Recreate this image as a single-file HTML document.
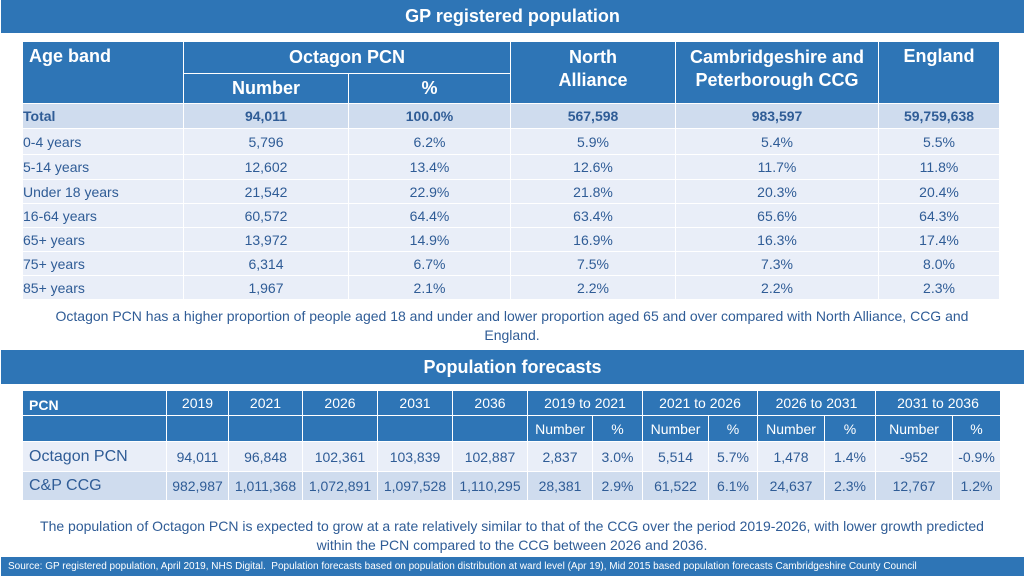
<!DOCTYPE html>
<html><head><meta charset="utf-8"><style>
body{margin:0;width:1024px;height:576px;position:relative;background:#fff;font-family:"Liberation Sans",sans-serif;overflow:hidden}
.banner{position:absolute;left:1px;width:1023px;background:#2e75b6;color:#fff;font-weight:bold;text-align:center}
table{position:absolute;border-collapse:collapse;table-layout:fixed}
td{padding:0;text-align:center;color:#2f5c96;overflow:hidden;white-space:nowrap}
.h td{background:#2e75b6;color:#fff;border:1px solid #fff}
#t1 td{font-size:14px;border-left:1px solid #fff;border-right:1px solid #fff;border-bottom:1px solid #fff}
#t1 .h td{font-size:18px;font-weight:bold}
#t1 .b td{background:#e9eef8}
#t1 .tot td{background:#cfdcee}
#t2 td{font-size:16px;border:1px solid #fff}
#t2 .h td{font-size:14px}
.r1 td{background:#e9eef8}
.r2 td{background:#cfdcee}
.l{text-align:left!important}
.note{position:absolute;left:0;width:1024px;text-align:center;color:#2f5c96;font-size:14px;line-height:19px}
</style></head><body>
<div class="banner" style="top:0;height:33px;line-height:33px;font-size:18px">GP registered population</div>
<table id="t1" style="left:22px;top:41px;width:977px">
<colgroup><col style="width:161px"><col style="width:165px"><col style="width:162px"><col style="width:165px"><col style="width:203px"><col style="width:121px"></colgroup>
<tr class="h" style="height:32px"><td class="l" rowspan="2" style="vertical-align:top;padding:4px 0 0 6px">Age band</td><td colspan="2">Octagon PCN</td><td rowspan="2" style="vertical-align:top;padding-top:4px;line-height:23px;white-space:normal">North<br>Alliance</td><td rowspan="2" style="vertical-align:top;padding-top:4px;line-height:23px">Cambridgeshire and<br>Peterborough CCG</td><td rowspan="2" style="vertical-align:top;padding-top:4px">England</td></tr>
<tr class="h" style="height:30px"><td>Number</td><td>%</td></tr>
<tr class="b tot" style="height:25px;font-weight:bold"><td class="l" style="font-weight:bold">Total</td><td>94,011</td><td>100.0%</td><td style="font-weight:bold">567,598</td><td style="font-weight:bold">983,597</td><td style="font-weight:bold">59,759,638</td></tr>
<tr class="b" style="height:26px"><td class="l">0-4 years</td><td>5,796</td><td>6.2%</td><td>5.9%</td><td>5.4%</td><td>5.5%</td></tr>
<tr class="b" style="height:25px"><td class="l">5-14 years</td><td>12,602</td><td>13.4%</td><td>12.6%</td><td>11.7%</td><td>11.8%</td></tr>
<tr class="b" style="height:24px"><td class="l">Under 18 years</td><td>21,542</td><td>22.9%</td><td>21.8%</td><td>20.3%</td><td>20.4%</td></tr>
<tr class="b" style="height:24px"><td class="l">16-64 years</td><td>60,572</td><td>64.4%</td><td>63.4%</td><td>65.6%</td><td>64.3%</td></tr>
<tr class="b" style="height:24px"><td class="l">65+ years</td><td>13,972</td><td>14.9%</td><td>16.9%</td><td>16.3%</td><td>17.4%</td></tr>
<tr class="b" style="height:24px"><td class="l">75+ years</td><td>6,314</td><td>6.7%</td><td>7.5%</td><td>7.3%</td><td>8.0%</td></tr>
<tr class="b" style="height:24px"><td class="l">85+ years</td><td>1,967</td><td>2.1%</td><td>2.2%</td><td>2.2%</td><td>2.3%</td></tr>
</table>
<div class="note" style="top:307px">Octagon PCN has a higher proportion of people aged 18 and under and lower proportion aged 65 and over compared with North Alliance, CCG and<br>England.</div>
<div class="banner" style="top:350px;height:34px;line-height:34px;font-size:18px">Population forecasts</div>
<table id="t2" style="left:22px;top:390px;width:978px">
<colgroup><col style="width:144px"><col style="width:62px"><col style="width:74px"><col style="width:75px"><col style="width:75px"><col style="width:75px"><col style="width:65px"><col style="width:50px"><col style="width:66px"><col style="width:49px"><col style="width:67px"><col style="width:51px"><col style="width:77px"><col style="width:48px"></colgroup>
<tr class="h" style="height:25px"><td class="l" style="font-weight:bold;padding-left:6px;padding-top:4px">PCN</td><td>2019</td><td>2021</td><td>2026</td><td>2031</td><td>2036</td><td colspan="2">2019 to 2021</td><td colspan="2">2021 to 2026</td><td colspan="2">2026 to 2031</td><td colspan="2">2031 to 2036</td></tr>
<tr class="h" style="height:26px"><td></td><td></td><td></td><td></td><td></td><td></td><td>Number</td><td>%</td><td>Number</td><td>%</td><td>Number</td><td>%</td><td>Number</td><td>%</td></tr>
<tr class="r1" style="height:30px;font-size:14px"><td class="l" style="padding-left:6px">Octagon PCN</td><td style="font-size:14px">94,011</td><td style="font-size:14px">96,848</td><td style="font-size:14px">102,361</td><td style="font-size:14px">103,839</td><td style="font-size:14px">102,887</td><td style="font-size:14px">2,837</td><td style="font-size:14px">3.0%</td><td style="font-size:14px">5,514</td><td style="font-size:14px">5.7%</td><td style="font-size:14px">1,478</td><td style="font-size:14px">1.4%</td><td style="font-size:14px">-952</td><td style="font-size:14px">-0.9%</td></tr>
<tr class="r2" style="height:29px"><td class="l" style="padding-left:6px">C&amp;P CCG</td><td style="font-size:14px">982,987</td><td style="font-size:14px">1,011,368</td><td style="font-size:14px">1,072,891</td><td style="font-size:14px">1,097,528</td><td style="font-size:14px">1,110,295</td><td style="font-size:14px">28,381</td><td style="font-size:14px">2.9%</td><td style="font-size:14px">61,522</td><td style="font-size:14px">6.1%</td><td style="font-size:14px">24,637</td><td style="font-size:14px">2.3%</td><td style="font-size:14px">12,767</td><td style="font-size:14px">1.2%</td></tr>
</table>
<div class="note" style="top:517px">The population of Octagon PCN is expected to grow at a rate relatively similar to that of the CCG over the period 2019-2026, with lower growth predicted<br>within the PCN compared to the CCG between 2026 and 2036.</div>
<div class="banner" style="top:557px;height:19px;line-height:19px;font-size:10px;font-weight:normal;text-align:left;padding-left:7px;width:1016px">Source: GP registered population, April 2019, NHS Digital.&nbsp; Population forecasts based on population distribution at ward level (Apr 19), Mid 2015 based population forecasts Cambridgeshire County Council</div>
</body></html>
